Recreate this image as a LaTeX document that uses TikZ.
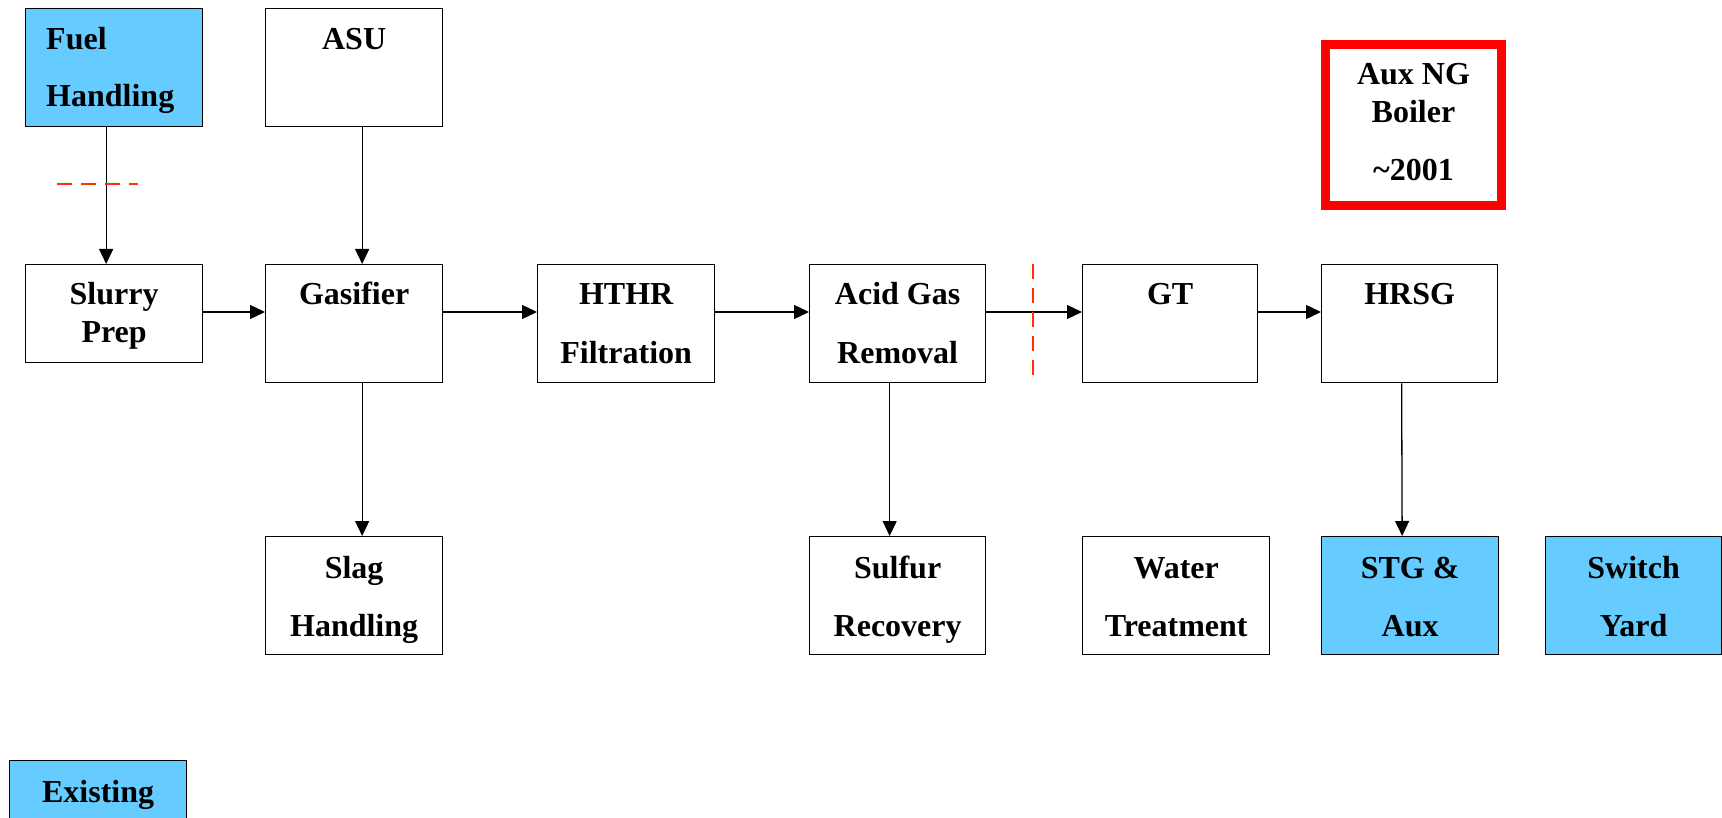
\documentclass[tikz,border=0pt]{standalone}
\usepackage{fontspec}
\setmainfont{Liberation Serif}
\usepackage{tikz}
\usetikzlibrary{arrows.meta, calc}

\definecolor{existblue}{HTML}{66CCFF}
\definecolor{cutred}{HTML}{FF3300}

\tikzset{
  unit/.style={draw, line width=1.3pt, anchor=north west, inner sep=0pt},
  lbl/.style={anchor=base, inner sep=0pt, font=\fontsize{32}{38}\selectfont\bfseries},
  flow/.style={->, line width=1.3pt},
  cut/.style={cutred, line width=1.3pt, dash pattern=on 15pt off 9pt},
}

\begin{document}
\begin{tikzpicture}[x=1pt, y=-1pt, >={Triangle[length=15pt, width=14pt]}]
  \path[use as bounding box, clip] (0,0) rectangle (1722,818);

  % top row
  \node[unit, fill=existblue, minimum width=177pt, minimum height=118pt] (fuel) at (25,8) {};
  \node[unit, minimum width=177pt, minimum height=118pt] (asu) at (265,8) {};
  \node[unit, draw=red, line width=9pt, minimum width=176pt, minimum height=161pt] (aux) at (1321,40) {};

  % process row
  \node[unit, minimum width=177pt, minimum height=98pt] (slurry) at (25,264) {};
  \node[unit, minimum width=177pt, minimum height=118pt] (gasifier) at (265,264) {};
  \node[unit, minimum width=177pt, minimum height=118pt] (hthr) at (537,264) {};
  \node[unit, minimum width=176pt, minimum height=118pt] (agr) at (809,264) {};
  \node[unit, minimum width=175pt, minimum height=118pt] (gt) at (1082,264) {};
  \node[unit, minimum width=176pt, minimum height=118pt] (hrsg) at (1321,264) {};

  % bottom row
  \node[unit, minimum width=177pt, minimum height=118pt] (slag) at (265,536) {};
  \node[unit, minimum width=176pt, minimum height=118pt] (sulfur) at (809,536) {};
  \node[unit, minimum width=187pt, minimum height=118pt] (water) at (1082,536) {};
  \node[unit, fill=existblue, minimum width=177pt, minimum height=118pt] (stg) at (1321,536) {};
  \node[unit, fill=existblue, minimum width=176pt, minimum height=118pt] (switch) at (1545,536) {};

  % legend
  \node[unit, fill=existblue, minimum width=177pt, minimum height=118pt] (existing) at (9,760) {};

  % labels
  \node[lbl, anchor=base west] (fuel-a) at (46,50) {Fuel};
  \node[lbl, anchor=base west] (fuel-b) at (46,107) {Handling};
  \node[lbl] (asu-a) at (asu.center |- 0,50) {ASU};
  \node[lbl] (aux-a) at (aux.center |- 0,85) {Aux NG};
  \node[lbl] (aux-b) at (aux.center |- 0,123) {Boiler};
  \node[lbl] (aux-c) at (aux.center |- 0,181) {\textasciitilde2001};
  \node[lbl] (slurry-a) at (slurry.center |- 0,305) {Slurry};
  \node[lbl] (slurry-b) at (slurry.center |- 0,343) {Prep};
  \node[lbl] (gasifier-a) at (gasifier.center |- 0,305) {Gasifier};
  \node[lbl] (hthr-a) at (hthr.center |- 0,305) {HTHR};
  \node[lbl] (hthr-b) at (hthr.center |- 0,363) {Filtration};
  \node[lbl] (agr-a) at (agr.center |- 0,305) {Acid Gas};
  \node[lbl] (agr-b) at (agr.center |- 0,363) {Removal};
  \node[lbl] (gt-a) at (gt.center |- 0,305) {GT};
  \node[lbl] (hrsg-a) at (hrsg.center |- 0,305) {HRSG};
  \node[lbl] (slag-a) at (slag.center |- 0,578) {Slag};
  \node[lbl] (slag-b) at (slag.center |- 0,636) {Handling};
  \node[lbl] (sulfur-a) at (sulfur.center |- 0,578) {Sulfur};
  \node[lbl] (sulfur-b) at (sulfur.center |- 0,636) {Recovery};
  \node[lbl] (water-a) at (water.center |- 0,578) {Water};
  \node[lbl] (water-b) at (water.center |- 0,636) {Treatment};
  \node[lbl] (stg-a) at (stg.center |- 0,578) {STG \&};
  \node[lbl] (stg-b) at (stg.center |- 0,636) {Aux};
  \node[lbl] (switch-a) at (switch.center |- 0,578) {Switch};
  \node[lbl] (switch-b) at (switch.center |- 0,636) {Yard};
  \node[lbl] (existing-a) at (existing.center |- 0,802) {Existing};

  % flows
  \draw[flow] ($(fuel.south)+(-8,0)$) -- ($(slurry.north)+(-8,0)$);
  \draw[flow] ($(asu.south)+(8,0)$) -- ($(gasifier.north)+(8,0)$);
  \draw[flow] ($(gasifier.south)+(8,0)$) -- ($(slag.north)+(8,0)$);
  \draw[flow] ($(slurry.north east)+(0,48)$) -- ($(gasifier.north west)+(0,48)$);
  \draw[flow] ($(gasifier.north east)+(0,48)$) -- ($(hthr.north west)+(0,48)$);
  \draw[flow] ($(hthr.north east)+(0,48)$) -- ($(agr.north west)+(0,48)$);
  \draw[flow] ($(agr.north east)+(0,48)$) -- ($(gt.north west)+(0,48)$);
  \draw[flow] ($(gt.north east)+(0,48)$) -- ($(hrsg.north west)+(0,48)$);
  \draw[flow] ($(agr.south)+(-8,0)$) -- ($(sulfur.north)+(-8,0)$);
  \draw[flow] ($(hrsg.south)+(-8,0)$) -- ($(stg.north)+(-8,0)$);

  % scope boundaries
  \draw[cut] (57,184) -- (138,184);
  \draw[cut] (1033,264) -- (1033,376);
\end{tikzpicture}
\end{document}
